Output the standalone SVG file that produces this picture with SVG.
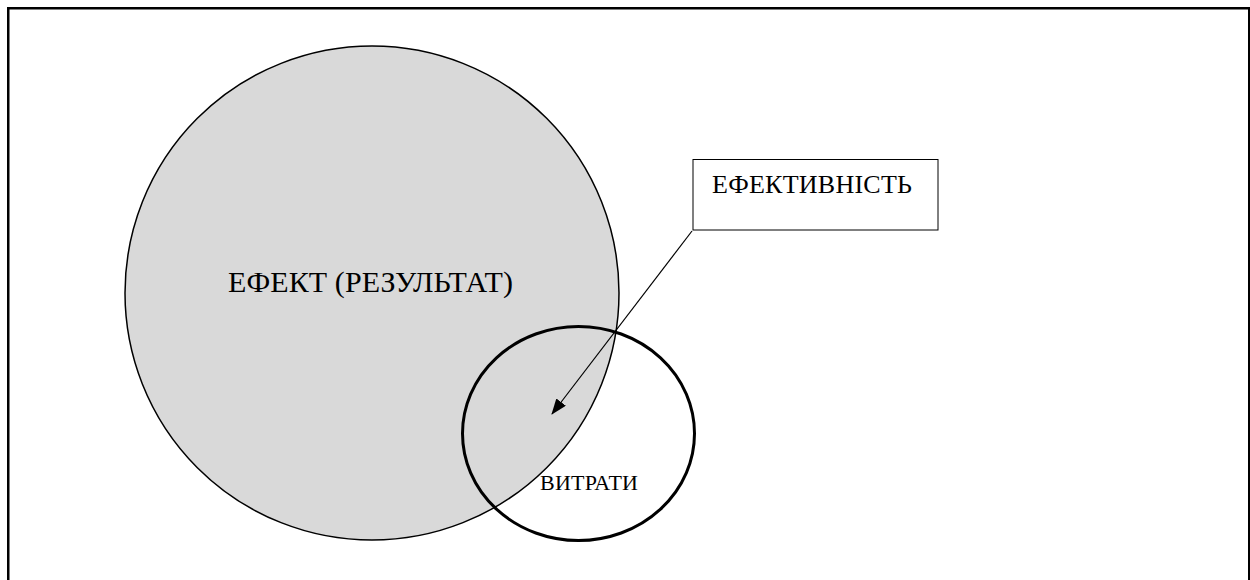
<svg xmlns="http://www.w3.org/2000/svg" width="1250" height="580" viewBox="0 0 1250 580">
  <style>
    text { font-family: 'Liberation Serif', 'DejaVu Serif', serif; fill: #000; }
  </style>
  <defs>
    <marker id="arrowhead" markerWidth="16" markerHeight="12" refX="15" refY="6" orient="auto" markerUnits="userSpaceOnUse">
      <path d="M0,0 L16,6 L0,12 Z" fill="#000"/>
    </marker>
  </defs>
  <rect x="0" y="0" width="1250" height="580" fill="#fff"/>
  <!-- outer frame -->
  <rect x="8.25" y="8.25" width="1241" height="620" fill="none" stroke="#000" stroke-width="2.5"/>

  <g id="effect">
    <circle cx="372" cy="293" r="247" fill="#d9d9d9" stroke="#000" stroke-width="1.5"/>
    <text x="228" y="292" font-size="30" textLength="285">ЕФЕКТ (РЕЗУЛЬТАТ)</text>
  </g>

  <g id="costs">
    <ellipse cx="578.5" cy="433.5" rx="116" ry="107" fill="none" stroke="#000" stroke-width="3"/>
    <text x="540" y="490" font-size="22" textLength="98">ВИТРАТИ</text>
  </g>

  <g id="efficiency">
    <rect x="693" y="159.5" width="245" height="70.5" fill="#fff" stroke="#000" stroke-width="1"/>
    <text x="712" y="193" font-size="26" textLength="200">ЕФЕКТИВНІСТЬ</text>
  </g>

  <g id="connectors">
    <line x1="692" y1="231" x2="552" y2="414" stroke="#000" stroke-width="1.2" marker-end="url(#arrowhead)"/>
  </g>
</svg>
